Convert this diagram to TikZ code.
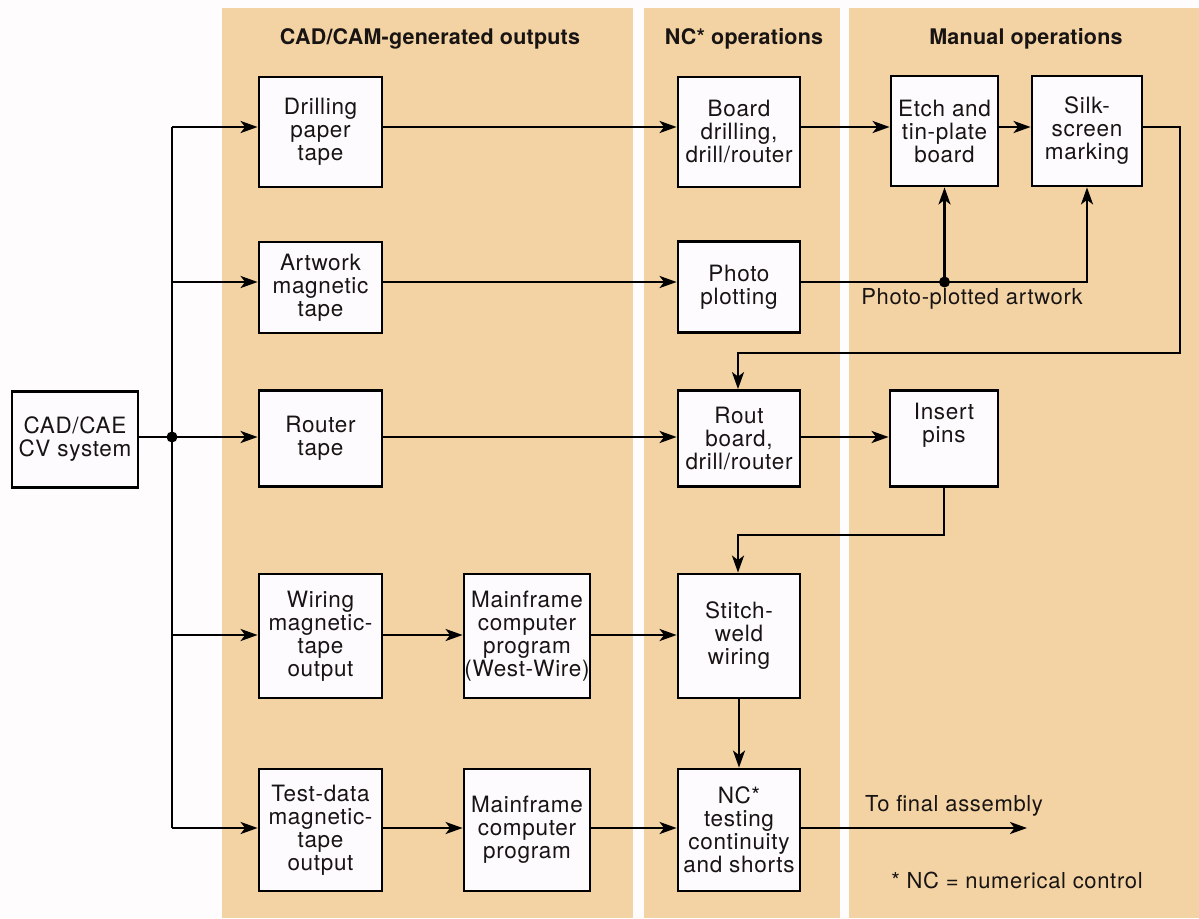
\documentclass[tikz,border=0pt]{standalone}
\usepackage{fontspec}
\setmainfont{TeX Gyre Heros}[LetterSpace=3]
\newfontfamily\hdrfont{TeX Gyre Heros}[LetterSpace=1]
\usetikzlibrary{arrows.meta,shadows}
\definecolor{panel}{RGB}{243,211,163}
\definecolor{paper}{RGB}{254,252,253}
\definecolor{boxfill}{RGB}{253,251,253}
\definecolor{ink}{RGB}{25,20,20}
\tikzset{
  box/.style={draw=black, line width=2.8pt, fill=boxfill, align=center, inner sep=0pt,
    text=ink, font=\fontsize{22.5}{23}\selectfont,
    drop shadow={shadow xshift=1.2pt, shadow yshift=-1.2pt, opacity=1, fill=black}},
  conn/.style={line width=2.5pt},
  arr/.style={conn, -{Stealth[length=17pt,width=12pt,inset=4.5pt]}},
  hdr/.style={font=\hdrfont\fontsize{21.5}{24}\selectfont\bfseries, text=ink},
  lbl/.style={font=\fontsize{22}{24}\selectfont, text=ink},
  dot/.style={circle, fill=black, inner sep=0pt, minimum size=11pt}
}
\begin{document}
\begin{tikzpicture}[x=1pt,y=-1pt]
\useasboundingbox (0,0) rectangle (1199,918);
\fill[paper] (0,0) rectangle (1199,918);
% panels
\fill[panel] (222,8) rectangle (633,918);
\fill[panel] (644,8) rectangle (840,918);
\fill[panel] (849,8) rectangle (1199,918);
% headers
\node[hdr] (h1) at (430,39) {CAD/CAM-generated outputs};
\node[hdr] (h2) at (744,39) {NC* operations};
\node[hdr] (h3) at (1026,39) {Manual operations};
% boxes
\node[box, minimum width=123pt, minimum height=110pt] (drill) at (320.5,132) {Drilling\\paper\\tape};
\node[box, minimum width=122pt, minimum height=110pt] (board) at (739,132) {Board\\drilling,\\drill/router};
\node[box, minimum width=107pt, minimum height=110pt] (etch) at (944.5,131) {Etch and\\tin-plate\\board};
\node[box, minimum width=110pt, minimum height=110pt] (silk) at (1087,131) {Silk-\\screen\\marking};
\node[box, minimum width=123pt, minimum height=91pt] (art) at (320.5,287.5) {Artwork\\magnetic\\tape};
\node[box, minimum width=122pt, minimum height=91pt] (photo) at (739,287) {Photo\\plotting};
\node[box, minimum width=126pt, minimum height=96pt] (cad) at (75,439.5) {CAD/CAE\\CV system};
\node[box, minimum width=123pt, minimum height=96pt] (router) at (320.5,438.5) {Router\\tape};
\node[box, minimum width=122pt, minimum height=96pt] (rout) at (739,438.5) {Rout\\board,\\drill/router};
\node[box, minimum width=108pt, minimum height=96pt] (insert) at (944,438.5) {Insert\\pins\\[8pt]};
\node[box, minimum width=123pt, minimum height=124pt] (wiring) at (320.5,636) {Wiring\\magnetic-\\tape\\output};
\node[box, minimum width=126pt, minimum height=124pt] (mf1) at (527,636) {Mainframe\\computer\\program\\(West-Wire)};
\node[box, minimum width=122pt, minimum height=124pt] (stitch) at (739,636) {Stitch-\\weld\\wiring};
\node[box, minimum width=123pt, minimum height=122pt] (test) at (320.5,830) {Test-data\\magnetic-\\tape\\output};
\node[box, minimum width=126pt, minimum height=122pt] (mf2) at (527,830) {Mainframe\\computer\\program};
\node[box, minimum width=122pt, minimum height=122pt] (nc) at (739,830) {NC*\\testing\\continuity\\and shorts};
% bus coordinates
\coordinate (b1) at (172,127);
\coordinate (b2) at (172,282);
\coordinate (b3) at (172,437);
\coordinate (b4) at (172,635);
\coordinate (b5) at (172,828);
\draw[conn] (b1) -- (b5);
\draw[conn] (cad.east |- b3) -- (b3);
\node[dot] (d1) at (b3) {};
\draw[arr] (b1) -- (b1 -| drill.west);
\draw[arr] (b2) -- (b2 -| art.west);
\draw[arr] (b3) -- (b3 -| router.west);
\draw[arr] (b4) -- (b4 -| wiring.west);
\draw[arr] (b5) -- (b5 -| test.west);
% row 1
\draw[arr] (drill.east |- b1) -- (board.west |- b1);
\draw[arr] (board.east |- b1) -- (etch.west |- b1);
\draw[arr] (etch.east |- b1) -- (silk.west |- b1);
\coordinate (ret1) at (1180,353);
\coordinate (ret2) at (738,353);
\draw[arr] (silk.east |- b1) -| (ret1) -- (ret2) -- (ret2 |- rout.north);
% row 2
\draw[arr] (art.east |- b2) -- (photo.west |- b2);
\draw[arr] (photo.east |- b2) -| (silk.south);
\node[dot] (d2) at (etch.south |- b2) {};
\draw[arr] (d2.center) -- (etch.south);
\node[lbl] (ppa) at (972,299) {Photo-plotted artwork};
% row 3
\draw[arr] (router.east |- b3) -- (rout.west |- b3);
\draw[arr] (rout.east |- b3) -- (insert.west |- b3);
\coordinate (k) at (738,535);
\draw[arr] (insert.south) |- (k) -- (k |- stitch.north);
% row 4
\draw[arr] (wiring.east |- b4) -- (mf1.west |- b4);
\draw[arr] (mf1.east |- b4) -- (stitch.west |- b4);
\draw[arr] (stitch.south) -- (nc.north);
% row 5
\draw[arr] (test.east |- b5) -- (mf2.west |- b5);
\draw[arr] (mf2.east |- b5) -- (nc.west |- b5);
\coordinate (fin) at (1027,828);
\draw[arr] (nc.east |- b5) -- (fin);
\node[lbl] (tfa) at (954,806) {To final assembly};
\node[lbl] (note) at (1017,880) {* NC = numerical control};
\end{tikzpicture}
\end{document}
